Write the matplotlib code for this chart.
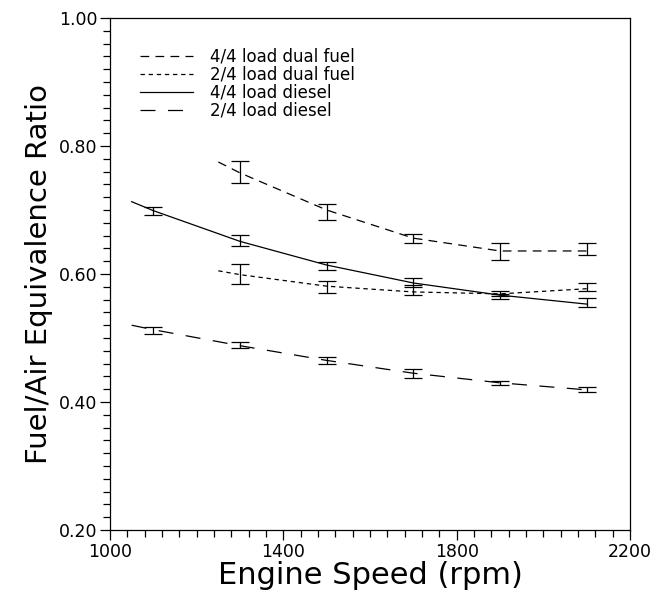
import numpy as np
import matplotlib
matplotlib.use("Agg")
import matplotlib.pyplot as plt
from matplotlib.ticker import MultipleLocator, FixedLocator

# engine speed of the measured points (rpm)
speed = [1100, 1300, 1500, 1700, 1900, 2100]
speed_df = [1300, 1500, 1700, 1900, 2100]

# measured fuel/air equivalence ratios and error half-widths
dual44 = [0.759, 0.697, 0.656, 0.635, 0.639]
dual44_err = [0.017, 0.012, 0.007, 0.013, 0.009]
dual24 = [0.600, 0.580, 0.575, 0.569, 0.580]
dual24_err = [0.016, 0.009, 0.008, 0.004, 0.006]
dies44 = [0.698, 0.652, 0.613, 0.586, 0.565, 0.555]
dies44_err = [0.006, 0.009, 0.006, 0.007, 0.004, 0.007]
dies24 = [0.512, 0.489, 0.465, 0.444, 0.430, 0.419]
dies24_err = [0.005, 0.004, 0.005, 0.007, 0.003, 0.004]

# fitted curves as drawn in the picture
curve_df_x = [1250, 1300, 1500, 1700, 1900, 2100]
curve_dual44 = [0.775, 0.758, 0.700, 0.656, 0.636, 0.636]
curve_dual24 = [0.605, 0.599, 0.581, 0.572, 0.569, 0.577]
curve_d_x = [1050, 1100, 1300, 1500, 1700, 1900, 2100]
curve_dies44 = [0.713, 0.699, 0.651, 0.614, 0.586, 0.567, 0.553]
curve_dies24 = [0.520, 0.513, 0.488, 0.465, 0.445, 0.430, 0.419]

labels = ["4/4 load dual fuel", "2/4 load dual fuel", "4/4 load diesel", "2/4 load diesel"]
xticks = [1000, 1400, 1800, 2200]

fig = plt.figure(figsize=(6.52, 5.94), dpi=100)
ax = fig.add_axes([0.1687, 0.1077, 0.7976, 0.8620])

lw = 0.9
l1, = ax.plot(curve_df_x, curve_dual44, color="black", lw=lw, dashes=(7, 5))
l2, = ax.plot(curve_df_x, curve_dual24, color="black", lw=lw, dashes=(3.5, 3))
l3, = ax.plot(curve_d_x, curve_dies44, color="black", lw=lw)
l4, = ax.plot(curve_d_x, curve_dies24, color="black", lw=lw, dashes=(12, 10))

ebkw = dict(fmt="none", ecolor="black", elinewidth=0.9, capsize=6.5, capthick=0.9)
ax.errorbar(speed_df, dual44, yerr=dual44_err, **ebkw)
ax.errorbar(speed_df, dual24, yerr=dual24_err, **ebkw)
ax.errorbar(speed, dies44, yerr=dies44_err, **ebkw)
ax.errorbar(speed, dies24, yerr=dies24_err, **ebkw)

ax.set_xlim(1000, 2200)
ax.set_ylim(0.20, 1.00)
ax.xaxis.set_major_locator(FixedLocator(xticks))
ax.xaxis.set_minor_locator(MultipleLocator(40))
ax.yaxis.set_major_locator(MultipleLocator(0.2))
ax.yaxis.set_minor_locator(MultipleLocator(0.02))
ax.yaxis.set_major_formatter(plt.FormatStrFormatter("%.2f"))
ax.tick_params(which="both", direction="out", top=False, right=False, width=0.9,
               labelsize=12.5)
ax.tick_params(which="major", length=7, pad=2)
ax.tick_params(which="minor", length=5)
for s in ax.spines.values():
    s.set_linewidth(0.9)

ax.set_xlabel("Engine Speed (rpm)", fontsize=22, labelpad=0)
ax.set_ylabel("Fuel/Air Equivalence Ratio", fontsize=21, labelpad=4)

ax.legend([l1, l2, l3, l4], labels, loc="upper left", bbox_to_anchor=(0.035, 0.965),
          frameon=False, fontsize=12, handlelength=3.2, handletextpad=1.0,
          labelspacing=0.0, borderpad=0.2)

fig.savefig("out.png", dpi=100)
